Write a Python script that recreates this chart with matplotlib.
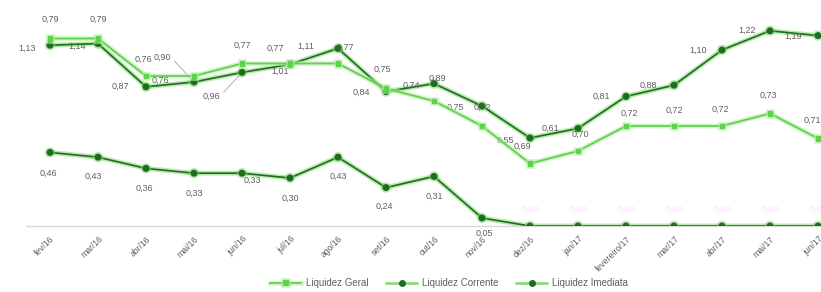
import matplotlib.pyplot as plt
import matplotlib.patheffects as pe
from matplotlib.lines import Line2D

plt.rcParams['font.family'] = ['Liberation Sans', 'DejaVu Sans']

# -----------------------------
# data
# -----------------------------
months = ["fev/16", "mar/16", "abr/16", "mai/16", "jun/16", "jul/16", "ago/16",
          "set/16", "out/16", "nov/16", "dez/16", "jan/17", "fevereiro/17",
          "mar/17", "abr/17", "mai/17", "jun/17"]

liq_geral = [0.79, 0.79, 0.76, 0.76, 0.77, 0.77, 0.77, 0.75, 0.74, 0.72,
             0.69, 0.70, 0.72, 0.72, 0.72, 0.73, 0.71]
liq_corrente = [1.13, 1.14, 0.87, 0.90, 0.96, 1.01, 1.11, 0.84, 0.89, 0.75,
                0.55, 0.61, 0.81, 0.88, 1.10, 1.22, 1.19]
liq_imediata = [0.46, 0.43, 0.36, 0.33, 0.33, 0.30, 0.43, 0.24, 0.31, 0.05,
                0.00, 0.00, 0.00, 0.00, 0.00, 0.00, 0.00]

# label offsets in pixels (dx, dy), hand placed like in the source sheet
off_geral = [(0, 19), (0, 19), (-3, 17), (-34, -4), (0, 18), (-15, 15), (7, 16),
             (-4, 19), (-23, 16), (0, 19), (-8, 17), (2, 17), (3, 13),
             (0, 16), (-2, 17), (-2, 18), (-6, 18)]
off_corrente = [(-23, -3), (-21, -3), (-26, 0), (-32, 25), (-31, -24), (-10, -7),
                (-32, 2), (-25, -1), (3, 5), (-27, -1), (-25, -2), (-28, 0),
                (-25, 0), (-26, 0), (-24, 0), (-23, 0), (-25, -1)]
off_imediata = [(-2, -21), (-5, -19), (-2, -20), (0, -20), (10, -7), (0, -20),
                (0, -19), (-2, -19), (0, -20), (2, -15)] + [(0, 17)] * 7

x = list(range(len(months)))

dark = "#1f6b1f"
glow = "#7fdc6c"
light = "#5fd24d"
label_color = "#5f5f5f"

fig = plt.figure(figsize=(8.21, 2.92), dpi=100)
ax = fig.add_axes([26 / 821, 66 / 292, 816 / 821, 226 / 292])
ax2 = ax.twinx()

ax.set_xlim(-0.5, 16.5)
ax.set_ylim(0, 226 / 160)
ax2.set_ylim(0.64, 0.8208)

glow_fx = [pe.Stroke(linewidth=3.5, foreground=glow, alpha=0.55), pe.Normal()]
glow_fx_l = [pe.Stroke(linewidth=3.5, foreground="#b8efaa", alpha=0.6), pe.Normal()]

ax.plot(x, liq_imediata, color=dark, lw=1.2, marker="o", ms=4, mfc=dark, mec=dark,
        path_effects=glow_fx, zorder=3)
ax.plot(x, liq_corrente, color=dark, lw=1.2, marker="o", ms=4, mfc=dark, mec=dark,
        path_effects=glow_fx, zorder=3)
ax2.plot(x, liq_geral, color=light, lw=1.3, marker="s", ms=3.5, mfc=light, mec=light,
         path_effects=glow_fx_l, zorder=2)


def fmt(v):
    return f"{v:.2f}".replace(".", ",")


def put_labels(axis, values, offsets, color=label_color):
    for i, (v, (dx, dy)) in enumerate(zip(values, offsets)):
        axis.annotate(fmt(v), (i, v), xytext=(dx, dy), textcoords="offset pixels",
                      ha="center", va="center", fontsize=6.5, color=color, zorder=5)


put_labels(ax2, liq_geral, off_geral)
put_labels(ax, liq_imediata[:10], off_imediata[:10])
# zero labels are barely visible in the source
for i in range(10, len(x)):
    dx, dy = off_imediata[i]
    ax.annotate(fmt(liq_imediata[i]), (i, liq_imediata[i]), xytext=(dx, dy),
                textcoords="offset pixels", ha="center", va="center",
                fontsize=6.5, color="#ececec")

for i, (v, (dx, dy)) in enumerate(zip(liq_corrente, off_corrente)):
    leader = None
    if i in (3, 4):
        leader = dict(arrowstyle="-", color="#a6a6a6", lw=0.6, shrinkA=1, shrinkB=3,
                      relpos=(1, 0.5))
    ax.annotate(fmt(v), (i, v), xytext=(dx, dy), textcoords="offset pixels",
                ha="center", va="center", fontsize=6.5, color=label_color,
                arrowprops=leader, zorder=5)

# axes styling
for a in (ax, ax2):
    for s in ("top", "right", "left"):
        a.spines[s].set_visible(False)
    a.set_yticks([])
ax2.spines["bottom"].set_visible(False)
ax.spines["bottom"].set_color("#d9d9d9")
ax.spines["bottom"].set_linewidth(1.0)
ax.set_xticks(x)
ax.set_xticklabels(months, rotation=45, ha="right", rotation_mode="anchor",
                   fontsize=6.2, color=label_color)
ax.tick_params(axis="x", length=0, pad=6)

handles = [
    Line2D([], [], color=light, lw=1.3, marker="s", ms=3.5, path_effects=glow_fx_l),
    Line2D([], [], color=glow, lw=1.8, marker="o", ms=4, mfc=dark, mec=dark),
    Line2D([], [], color=glow, lw=1.8, marker="o", ms=4, mfc=dark, mec=dark),
]
fig.legend(handles, ["Liquidez Geral", "Liquidez Corrente", "Liquidez Imediata"],
           loc="center", bbox_to_anchor=(0.547, 0.031), ncol=3, frameon=False,
           fontsize=7, labelcolor=label_color, handlelength=3.2, handletextpad=0.5,
           columnspacing=1.8)

fig.savefig("out.png", dpi=100)
